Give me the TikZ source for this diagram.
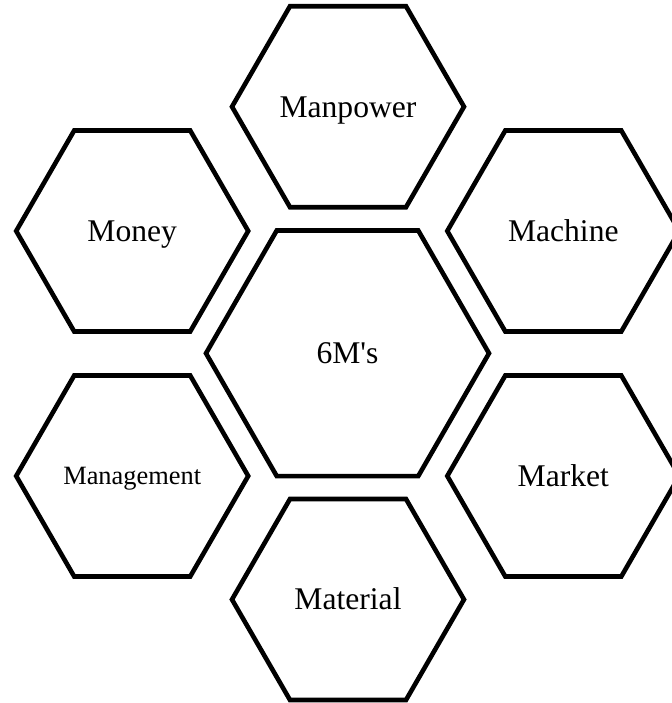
\documentclass[tikz,border=0pt]{standalone}
\usepackage{fontspec}
\setmainfont{Liberation Serif}

% hexagon with left/right corners round a named node: node, half width, half height
\newcommand{\hexat}[3]{%
  \draw[hexline] (#1.center) ++(-#2,0) -- ++(#2/2,#3) -- ++(#2,0)
    -- ++(#2/2,-#3) -- ++(-#2/2,-#3) -- ++(-#2,0) -- cycle;}

\begin{document}
\begin{tikzpicture}[
  x=0.5pt, y=-0.5pt,
  hexline/.style={draw=black, line width=2.3pt, line join=miter},
  cell/.style={font=\fontsize{15.8}{18}\selectfont, inner sep=0pt,
    text height=10.4pt, text depth=0pt},
  smallcell/.style={cell, font=\fontsize{13.2}{15}\selectfont,
    text height=8.7pt}
]
  \useasboundingbox (0,0) rectangle (671,703);

  % centre
  \node[cell] (core) at (347.5,353.3) {6M\textquotesingle s};

  % the six M's round it
  \node[cell] (manpower) at (348,106.7) {Manpower};
  \node[cell] (money) at (132.2,231) {Money};
  \node[cell] (machine) at (563.3,231) {Machine};
  \node[smallcell] (management) at (132.2,476) {Management};
  \node[cell] (market) at (563.3,476) {Market};
  \node[cell] (material) at (348,599.5) {Material};

  % outlines
  \hexat{core}{141.5}{122.8}
  \foreach \cellname in {manpower,money,machine,management,market,material}{
    \hexat{\cellname}{116}{100.5}
  }
\end{tikzpicture}
\end{document}
